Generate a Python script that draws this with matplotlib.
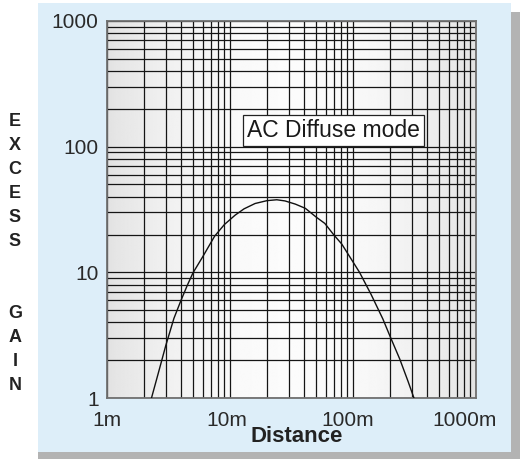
import numpy as np
import matplotlib
matplotlib.use("Agg")
import matplotlib.pyplot as plt
from matplotlib.patches import Rectangle
from matplotlib.ticker import FixedLocator, LogLocator, NullFormatter
import matplotlib.transforms as mtransforms

plt.rcParams['font.family'] = ['Liberation Sans', 'DejaVu Sans']

# ---- data ----
distance_m = [2.3, 2.6, 3.0, 3.5, 4.0, 4.5, 5.0, 6.0, 7.5, 9.0, 11, 13, 16, 20, 24,
              28, 34, 41, 50, 59, 70, 81, 100, 113, 140, 175, 200, 240, 280, 313]
excess_gain = [1.0, 1.55, 2.6, 4.3, 6.0, 7.9, 9.9, 13.3, 19.4, 24.0, 28.5, 32.0, 35.3, 37.2, 37.8,
               37.0, 34.9, 32.3, 27.6, 24.5, 19.8, 16.8, 12.1, 10.0, 6.7, 4.25, 3.1, 2.04, 1.36, 1.0]
x_ticks = [1, 10, 100, 1000]
x_tick_labels = ['1m', '10m', '100m', '1000m']
y_ticks = [1, 10, 100, 1000]
y_tick_labels = ['1', '10', '100', '1000']
mode_label = 'AC Diffuse mode'
x_label = 'Distance'
y_label = 'EXCESS  GAIN'

W, H = 520, 459
fig = plt.figure(figsize=(W / 100, H / 100), dpi=100, facecolor='white')

def px_rect(x0, y0, x1, y1, color, z):
    r = Rectangle((x0 / W, 1 - y1 / H), (x1 - x0) / W, (y1 - y0) / H,
                  transform=fig.transFigure, facecolor=color, edgecolor='none', zorder=z)
    fig.patches.append(r)

# shadow and panel
px_rect(38, 12, 520, 459, '#b3b3b3', -10)
px_rect(38, 3, 511, 452, '#ddeef9', -9)

L, R, T, B = 107, 476, 21, 398
ax = fig.add_axes([L / W, 1 - B / H, (R - L) / W, (B - T) / H])
ax.set_xscale('log')
ax.set_yscale('log')
ax.patch.set_alpha(0)

# horizontal gradient background
xs = np.linspace(0, 1, 256)
vals = 0.985 - 0.095 * ((xs - 0.5) / 0.5) ** 2
grad = np.tile(vals, (2, 1))
ax.imshow(grad, cmap='gray', vmin=0, vmax=1, extent=[0, 1, 0, 1], transform=ax.transAxes,
          aspect='auto', zorder=0, interpolation='bilinear')
ax.set_xlim(1, 1000)
ax.set_ylim(1, 1000)

ax.xaxis.set_major_locator(FixedLocator(x_ticks))
ax.yaxis.set_major_locator(FixedLocator(y_ticks))
ax.xaxis.set_minor_locator(LogLocator(base=10, subs=np.arange(2, 10)))
ax.yaxis.set_minor_locator(LogLocator(base=10, subs=np.arange(2, 10)))
ax.xaxis.set_minor_formatter(NullFormatter())
ax.yaxis.set_minor_formatter(NullFormatter())
ax.set_xticklabels(x_tick_labels)
ax.set_yticklabels(y_tick_labels)
ax.tick_params(which='both', length=0)
ax.tick_params(axis='x', pad=9, labelsize=15, labelcolor='#2a2a2a')
ax.tick_params(axis='y', pad=6, labelsize=15, labelcolor='#2a2a2a')

ax.grid(True, which='both', color='#151515', linewidth=0.9, zorder=1)
ax.set_axisbelow(False)

# small manual nudges of x tick labels to match reference
offsets = [0, -3, -5, -11]
for lab, dx in zip(ax.get_xticklabels(), offsets):
    lab.set_transform(lab.get_transform() + mtransforms.ScaledTranslation(dx / 100, 0, fig.dpi_scale_trans))

for s in ax.spines.values():
    s.set_color('#707070')
    s.set_linewidth(1.3)
    s.set_zorder(3)

ax.plot(distance_m, excess_gain, color='#111111', linewidth=1.0, zorder=4, clip_on=True)

ax.text(0.615, 0.7095, mode_label, transform=ax.transAxes, ha='center', va='center',
        fontsize=16.5, color='#1a1a1a', zorder=5,
        bbox=dict(boxstyle='square,pad=0.18', facecolor='white', edgecolor='#222222', linewidth=0.9))

fig.text(297 / W, 1 - 436 / H, x_label, ha='center', va='center', fontsize=16,
         fontweight='bold', color='#222222')

letters = list(y_label)
y0, step = 122, 24
for i, ch in enumerate(letters):
    if ch.strip():
        fig.text(15 / W, 1 - (y0 + i * step) / H, ch, ha='center', va='center',
                 fontsize=13, fontweight='bold', color='#222222')

fig.savefig('out.png', dpi=100, facecolor='white')
